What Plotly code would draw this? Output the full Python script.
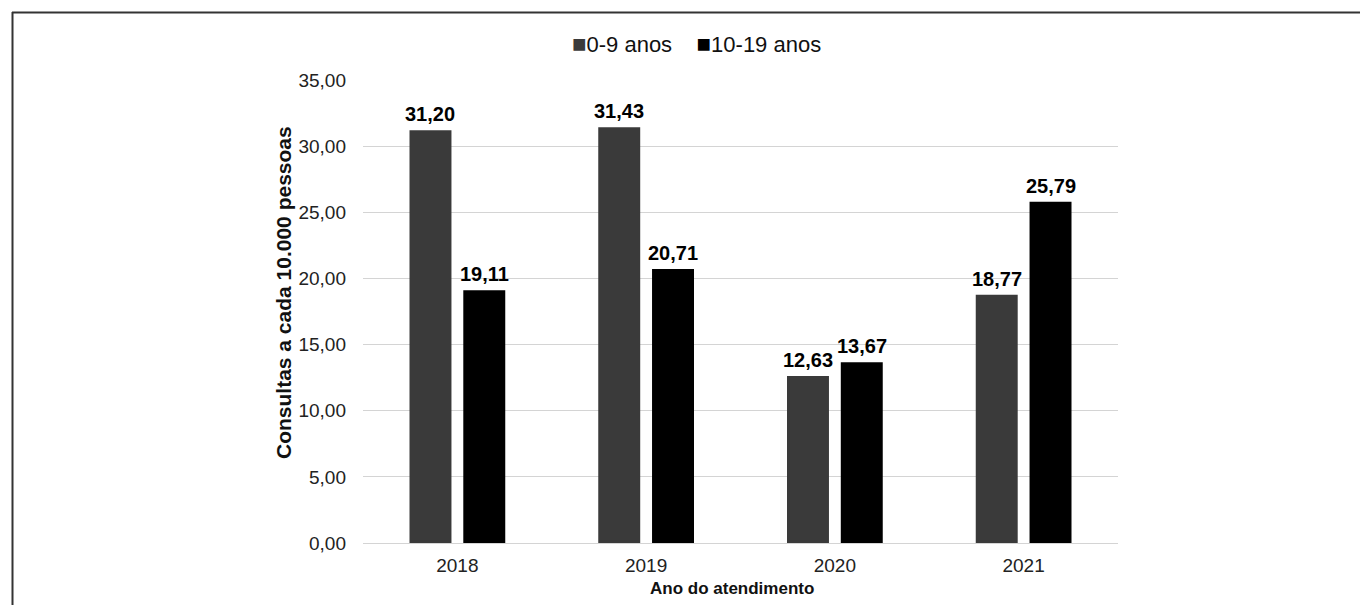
import plotly.graph_objects as go

# Consultas por ano de atendimento, por faixa etária
anos = ["2018", "2019", "2020", "2021"]
faixa_0_9 = [31.20, 31.43, 12.63, 18.77]
faixa_10_19 = [19.11, 20.71, 13.67, 25.79]
nomes_series = ["0-9 anos", "10-19 anos"]
cores_series = ["#3a3a3a", "#000000"]
titulo_x = "Ano do atendimento"
titulo_y = "Consultas a cada 10.000 pessoas"

W, H = 1360, 605
ML, MR, MT, MB = 363, 242, 80, 62
PW, PH = W - ML - MR, H - MT - MB

FONT = "Arial, 'Liberation Sans', sans-serif"
BAR_SHIFT = 27  # deslocamento horizontal (px) de cada barra em relação ao centro da categoria

series = [faixa_0_9, faixa_10_19]

fig = go.Figure()
for nome, valores, cor in zip(nomes_series, series, cores_series):
    fig.add_trace(go.Bar(
        x=anos, y=valores, name=nome,
        marker=dict(color=cor, line=dict(width=0)),
        showlegend=False,
    ))


def px_x(px):
    return (px - ML) / PW


def px_y(py):
    return (H - MB - py) / PH


# rótulos de valor acima das barras
annotations = []
for i, valores in enumerate(series):
    shift = -BAR_SHIFT if i == 0 else BAR_SHIFT
    for idx, v in enumerate(valores):
        annotations.append(dict(
            x=idx, y=v, xref="x", yref="y",
            text="<b>" + f"{v:.2f}".replace(".", ",") + "</b>",
            showarrow=False, xanchor="center", yanchor="bottom",
            xshift=shift, yshift=3,
            font=dict(family=FONT, size=20, color="#000000"),
        ))

# legenda no topo
esp = "\u00a0" * 4
partes = []
for nome, cor in zip(nomes_series, cores_series):
    partes.append(f"<span style='color:{cor};font-size:24px'>■</span>{nome}")
annotations.append(dict(
    x=px_x(696), y=px_y(44), xref="paper", yref="paper",
    text=esp.join(partes), showarrow=False,
    xanchor="center", yanchor="middle",
    font=dict(family=FONT, size=22, color="#111111"),
))

# títulos dos eixos
annotations.append(dict(
    x=px_x(732), y=px_y(588), xref="paper", yref="paper",
    text=f"<b>{titulo_x}</b>", showarrow=False,
    xanchor="center", yanchor="middle",
    font=dict(family=FONT, size=17, color="#111111"),
))
annotations.append(dict(
    x=px_x(283), y=px_y(293), xref="paper", yref="paper",
    text=f"<b>{titulo_y}</b>", showarrow=False, textangle=-90,
    xanchor="center", yanchor="middle",
    font=dict(family=FONT, size=21, color="#111111"),
))

# moldura: linhas superior e esquerda
shapes = [
    dict(type="line", xref="paper", yref="paper",
         x0=px_x(12), x1=px_x(W), y0=px_y(12.5), y1=px_y(12.5),
         line=dict(color="#333333", width=2)),
    dict(type="line", xref="paper", yref="paper",
         x0=px_x(12.5), x1=px_x(12.5), y0=px_y(12), y1=px_y(H),
         line=dict(color="#333333", width=2)),
]

fig.update_layout(
    width=W, height=H,
    margin=dict(l=ML, r=MR, t=MT, b=MB, pad=0),
    paper_bgcolor="white", plot_bgcolor="white",
    separators=",.",
    barmode="group", bargap=0.43, bargroupgap=0.22,
    font=dict(family=FONT, size=19, color="#222222"),
    showlegend=False,
    annotations=annotations,
    shapes=shapes,
    xaxis=dict(
        type="category", range=[-0.5, 3.5],
        showgrid=False, showline=False, zeroline=False, ticks="",
        ticklabelstandoff=9,
        tickfont=dict(family=FONT, size=19, color="#222222"),
    ),
    yaxis=dict(
        range=[0, 35], dtick=5, tick0=0, tickformat=".2f",
        showgrid=True, gridcolor="#d4d4d4", gridwidth=1,
        zeroline=True, zerolinecolor="#d4d4d4", zerolinewidth=1,
        showline=False, ticks="", ticklabelstandoff=16,
        tickfont=dict(family=FONT, size=19, color="#222222"),
    ),
)

fig.write_html("out.html")
